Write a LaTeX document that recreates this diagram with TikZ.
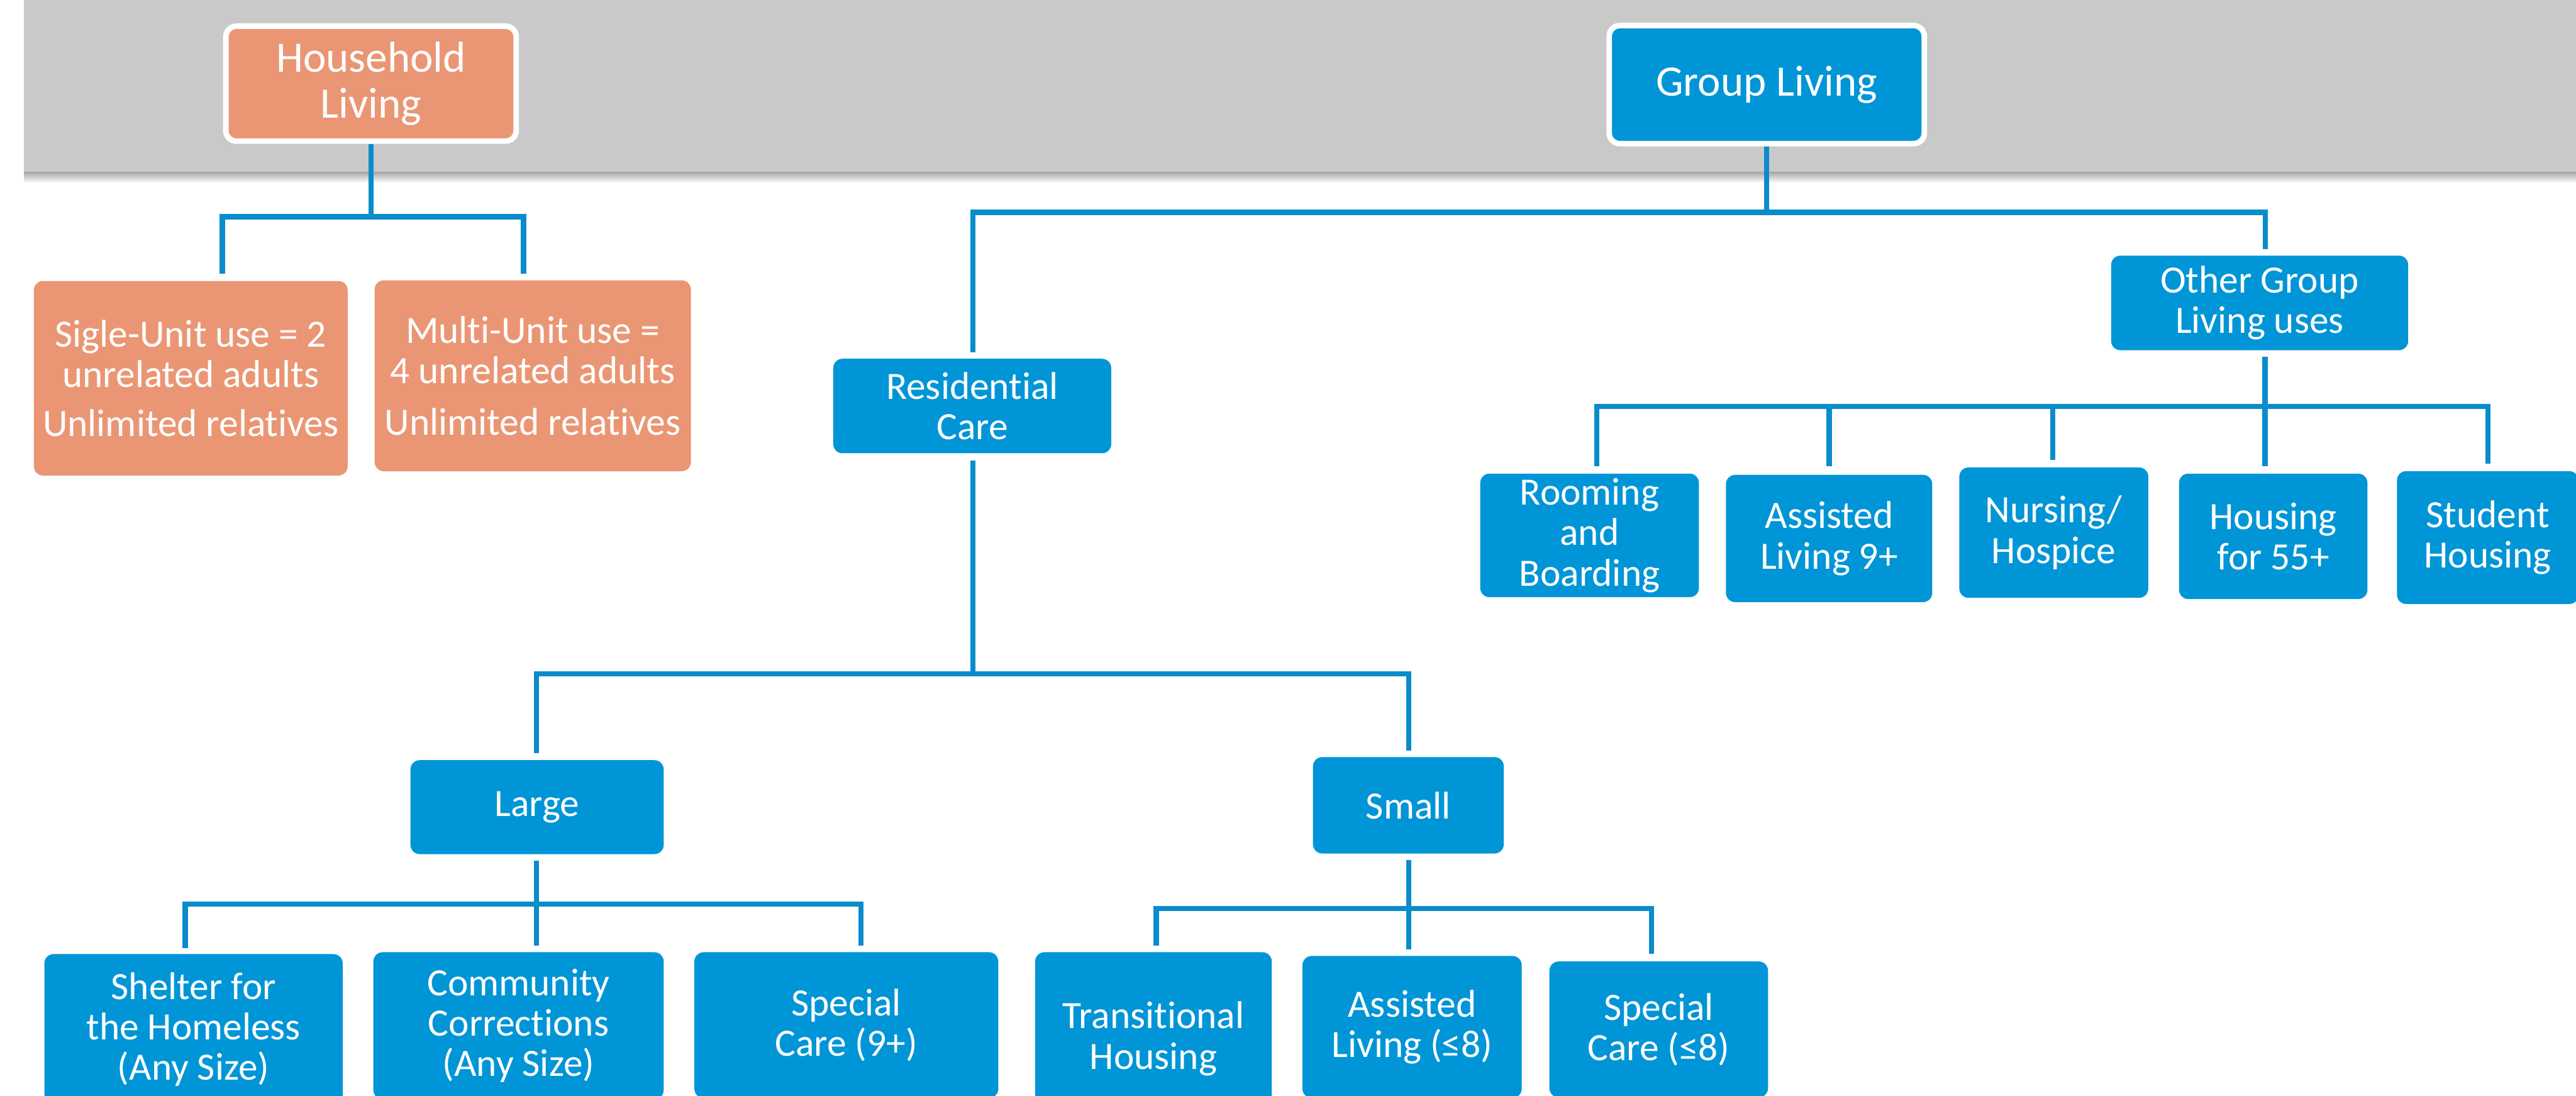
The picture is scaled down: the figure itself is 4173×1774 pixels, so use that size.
\documentclass[tikz,border=0pt]{standalone}
\usepackage{fontspec}
\setmainfont[Ligatures=NoCommon]{Carlito}
\usetikzlibrary{calc}
\definecolor{cblue}{HTML}{0095D6}
\definecolor{lblue}{HTML}{0A8CCB}
\definecolor{salmon}{HTML}{EA9674}
\definecolor{band}{HTML}{C9C9C9}
\tikzset{
  bx/.style={fill=cblue, text=white, rounded corners=0.15cm, inner sep=0pt, align=center,
             font=\fontsize{17.8}{18.6}\selectfont},
  topbox/.style={draw=white, line width=0.09cm, rounded corners=0.17cm, inner sep=0pt, align=center,
             text=white, font=\fontsize{20}{21}\selectfont},
  conn/.style={draw=lblue, line width=0.085cm},
}
\begin{document}
\begin{tikzpicture}[x=0.01cm, y=-0.01cm]
\useasboundingbox (0,0) rectangle (4173,1774);
\clip (0,0) rectangle (4173,1774);
% header band
\shade[top color=black!40, bottom color=white] (39,276) rectangle (4173,296);
\fill[band] (39,0) rectangle (4173,278);

% top level
\node[topbox, fill=salmon, minimum width=4.70cm, minimum height=1.86cm] (hh) at (601,135.5) {Household\\Living};
\node[topbox, fill=cblue, minimum width=5.10cm, minimum height=1.91cm] (gl) at (2862,137) {Group Living};

% household children
\node[bx, fill=salmon, minimum width=5.08cm, minimum height=3.15cm] (sigle) at (309,612.5)
  {Sigle-Unit use = 2\\unrelated adults\\[4pt]Unlimited relatives};
\node[bx, fill=salmon, minimum width=5.12cm, minimum height=3.09cm] (multi) at (863,608.5)
  {Multi-Unit use =\\4 unrelated adults\\[5pt]Unlimited relatives};

% group living children
\node[bx, minimum width=4.50cm, minimum height=1.53cm] (res) at (1575,657.5) {Residential\\Care};
\node[bx, minimum width=4.81cm, minimum height=1.53cm] (other) at (3660.5,490.5) {Other Group\\Living uses};

% other group living uses
\node[bx, minimum width=3.54cm, minimum height=2.00cm] (room) at (2575,867) {Rooming\\and\\Boarding};
\node[bx, minimum width=3.34cm, minimum height=2.06cm] (al9) at (2963,872) {Assisted\\Living 9+};
\node[bx, minimum width=3.06cm, minimum height=2.11cm] (nurs) at (3327,862.5) {Nursing/\\Hospice};
\node[bx, minimum width=3.05cm, minimum height=2.03cm] (h55) at (3682.5,868.5) {Housing\\for 55+};
\node[bx, minimum width=2.94cm, minimum height=2.15cm] (stud) at (4030,870.5) {Student\\Housing};

% residential care
\node[bx, minimum width=4.10cm, minimum height=1.52cm] (large) at (870,1307) {Large};
\node[bx, minimum width=3.09cm, minimum height=1.56cm] (small) at (2281.5,1304) {Small};

% large
\node[bx, minimum width=4.83cm, minimum height=2.44cm] (shelter) at (313.5,1667) {Shelter for\\the Homeless\\(Any Size)};
\node[bx, minimum width=4.70cm, minimum height=2.38cm] (comm) at (840,1661) {Community\\Corrections\\(Any Size)};
\node[bx, minimum width=4.92cm, minimum height=2.36cm] (sp9) at (1371,1660) {Special\\Care (9+)};

% small
\node[bx, minimum width=3.83cm, minimum height=2.80cm] (trans) at (1868.5,1682) {Transitional\\Housing};
\node[bx, minimum width=3.55cm, minimum height=2.30cm] (al8) at (2287.5,1663) {Assisted\\Living (≤8)};
\node[bx, minimum width=3.54cm, minimum height=2.20cm] (sp8) at (2687,1667) {Special\\Care (≤8)};

% connectors
\coordinate (hhbar) at (601,351);
\draw[conn] (hh.south) -- (hhbar);
\draw[conn] ($(sigle.north)+(51,-11)$) |- (hhbar) -| ($(multi.north)+(-15,-10)$);

\coordinate (glbar) at (2862,344);
\draw[conn] (gl.south) -- (glbar);
\draw[conn] ($(res.north)+(1,-10)$) |- (glbar) -| ($(other.north)+(9,-10)$);

\coordinate (othbar) at (3669,658);
\draw[conn] ($(other.south)+(8.5,10)$) -- (othbar);
\draw[conn] ($(room.north)+(12,-11)$) |- (othbar) -| ($(stud.north)+(0,-11)$);
\draw[conn] ($(al9.north)+(0,-13)$) -- (al9.north |- othbar);
\draw[conn] ($(nurs.north)+(-2,-11)$) -- ($(nurs.north |- othbar)+(-2,0)$);
\draw[conn] ($(h55.north)+(-13.5,-11)$) -- (othbar);

\coordinate (resbar) at (1576,1091);
\draw[conn] ($(res.south)+(1,11)$) -- (resbar);
\draw[conn] ($(large.north)+(-1,-11)$) |- (resbar) -| ($(small.north)+(0.5,-10)$);

\coordinate (lbar) at (869,1464);
\draw[conn] ($(large.south)+(-1,10)$) -- (lbar);
\draw[conn] ($(shelter.north)+(-13.5,-9)$) |- (lbar) -| ($(sp9.north)+(24,-10)$);
\draw[conn] ($(comm.north)+(29,-10)$) -- (lbar);

\coordinate (sbar) at (2282,1471);
\draw[conn] ($(small.south)+(0.5,10)$) -- (sbar);
\draw[conn] ($(trans.north)+(4.5,-10)$) |- (sbar) -| ($(sp8.north)+(-12,-12)$);
\draw[conn] ($(al8.north)+(-5.5,-10)$) -- (sbar);
\end{tikzpicture}
\end{document}
